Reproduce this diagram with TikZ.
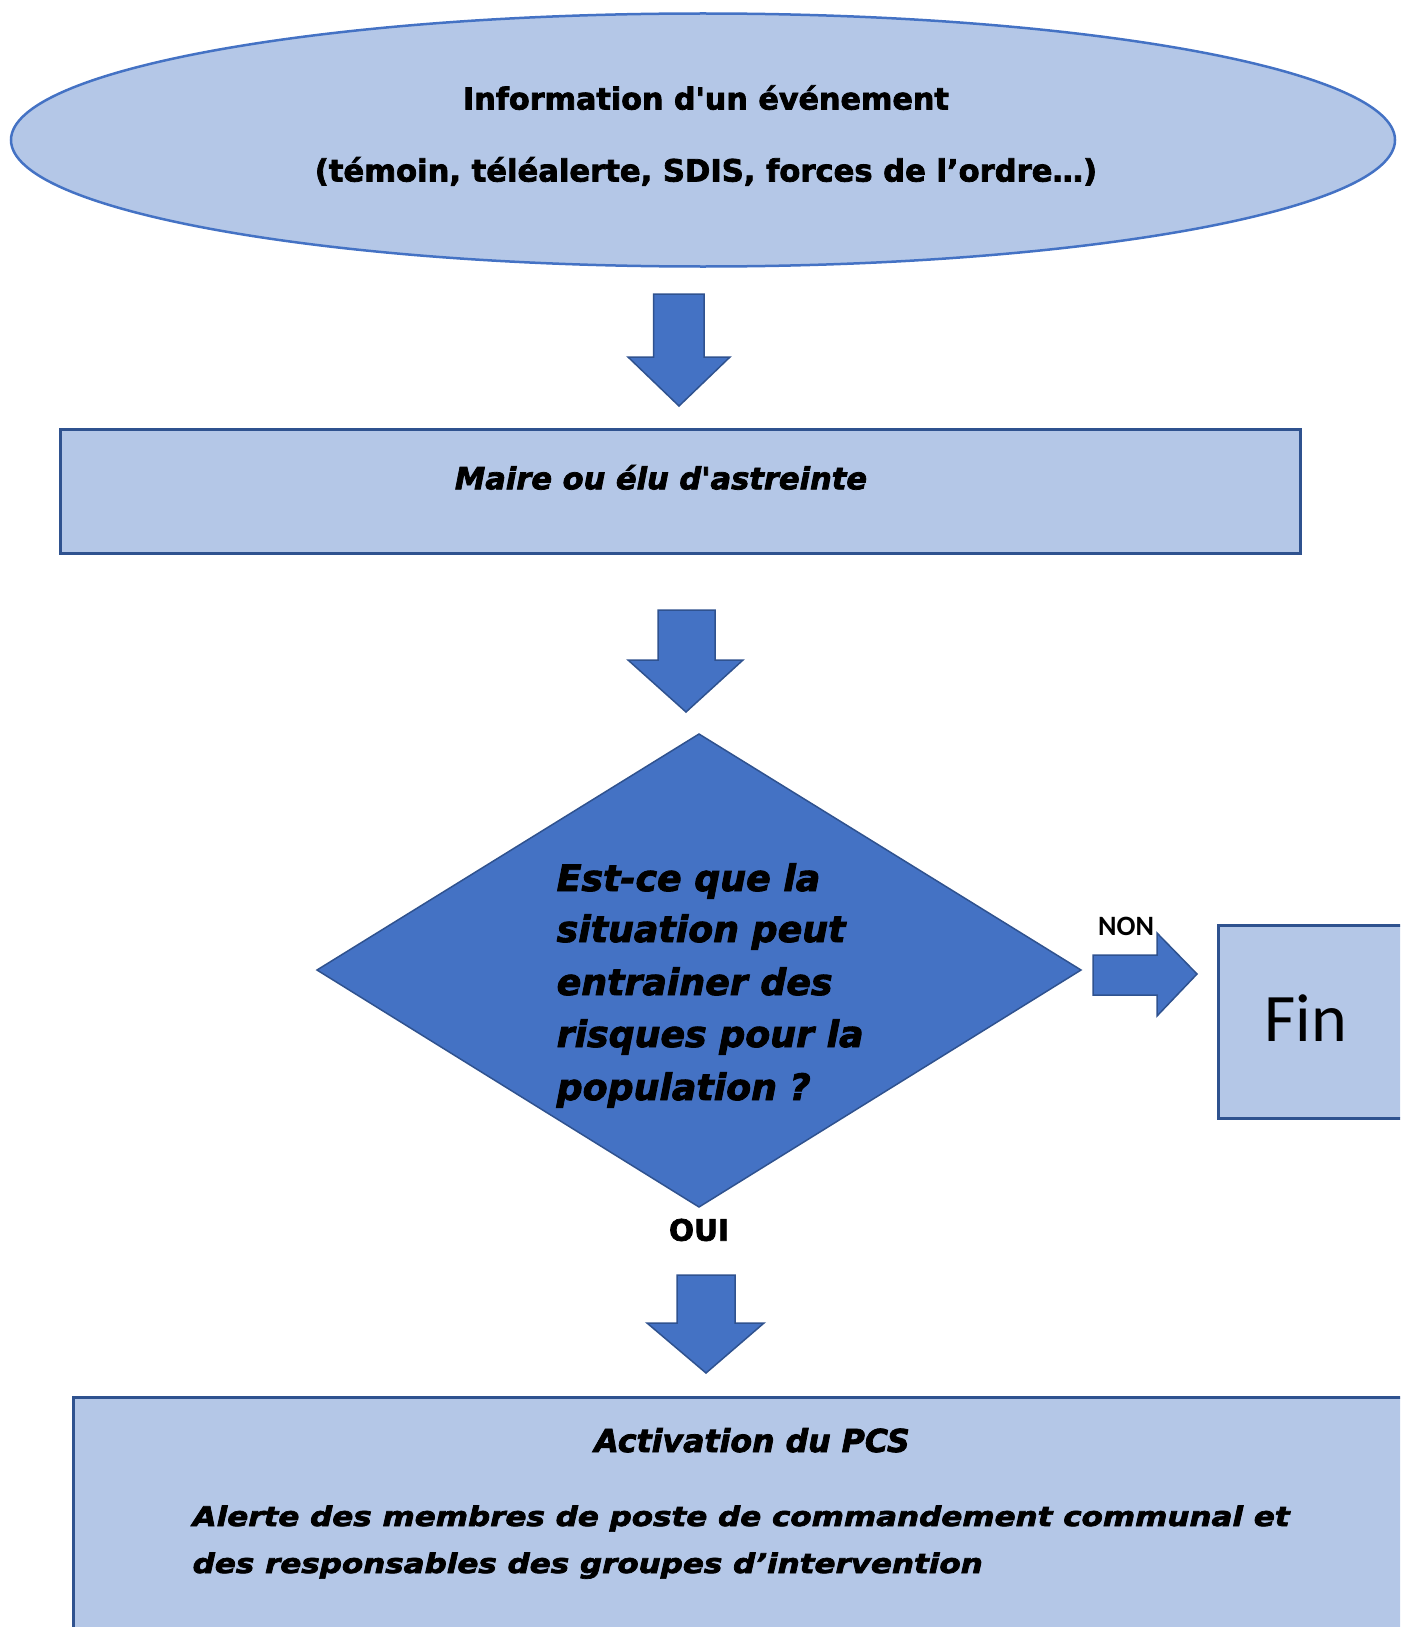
\documentclass[tikz,border=0pt]{standalone}
\usepackage{fontspec}
\setmainfont{DejaVu Sans}[Ligatures=TeXOff, BoldFeatures={FakeBold=2.5}, BoldItalicFeatures={FakeBold=2.5}]
\newfontfamily\calfont{Carlito}
\definecolor{lightblue}{HTML}{B4C7E7}
\definecolor{midblue}{HTML}{4472C4}
\definecolor{darkblue}{HTML}{2F528F}
\tikzset{
  boxstyle/.style={fill=lightblue, draw=darkblue, line width=3pt},
  blockarrow/.style={fill=midblue, draw=darkblue, line width=1.5pt, line join=miter},
  txt/.style={inner sep=0pt, text=black},
}
\begin{document}
\begin{tikzpicture}[x=1pt,y=-1pt]
\useasboundingbox (0,0) rectangle (1400,1627);
\begin{scope}
\clip (0,0) rectangle (1400,1627);
% ellipse
\draw[fill=lightblue, draw=midblue, line width=2.5pt] (703,140) ellipse [x radius=692, y radius=126.5];
\node[txt, font=\bfseries\fontsize{30.2}{34}\selectfont, anchor=base] (t1) at (706,109.5) {Information d'un événement};
\node[txt, font=\bfseries\fontsize{30.6}{34}\selectfont, anchor=base] (t2) at (706,181.5) {(témoin, téléalerte, SDIS, forces de l’ordre…)};
% arrow 1
\draw[blockarrow] (653.5,294) -- (704,294) -- (704,357) -- (730,357) -- (679,406) -- (628,357) -- (653.5,357) -- cycle;
% rect 1
\node[boxstyle, minimum width=1240pt, minimum height=124pt, anchor=north west, inner sep=0pt] (maire) at (58.5,427.5) {};
\node[txt, font=\bfseries\itshape\fontsize{30.5}{34}\selectfont, anchor=base] (mairet) at (661,489.3) {Maire ou élu d'astreinte};
% arrow 2
\draw[blockarrow] (658,610) -- (715,610) -- (715,660) -- (743,660) -- (686,712) -- (628,660) -- (658,660) -- cycle;
% diamond
\draw[fill=midblue, draw=darkblue, line width=1.5pt] (699,734) -- (1081,970) -- (699,1207) -- (317,970) -- cycle;
\begin{scope}[every node/.style={txt, font=\bfseries\itshape\fontsize{36.3}{40}\selectfont, anchor=base west}]
\node (q1) at (556.5,891) {Est-ce que la};
\node (q2) at (556.5,942) {situation peut};
\node (q3) at (556.5,995) {entrainer des};
\node (q4) at (556.5,1047) {risques pour la};
\node (q5) at (556.5,1100) {population ?};
\end{scope}
% right arrow
\draw[blockarrow] (1093,955) -- (1157,955) -- (1157,933) -- (1197,974) -- (1157,1016) -- (1157,995) -- (1093,995) -- cycle;
\node[txt, font=\calfont\bfseries\fontsize{28}{32}\selectfont, anchor=base west] (non) at (1098,935) {NON};
% Fin box
\draw[boxstyle] (1218,925) rectangle (1420,1118);
\node[txt, font=\calfont\fontsize{68}{76}\selectfont, anchor=base west] (fin) at (1264,1041.7) {Fin};
% OUI
\node[txt, font=\bfseries\fontsize{29.5}{32}\selectfont, anchor=base] (oui) at (699,1240.7) {OUI};
% arrow 3
\draw[blockarrow] (677,1275) -- (735,1275) -- (735,1323) -- (764,1323) -- (706,1373) -- (647,1323) -- (677,1323) -- cycle;
% bottom rect
\draw[boxstyle] (73,1397) rectangle (1420,1650);
\node[txt, font=\bfseries\itshape\fontsize{31.6}{34}\selectfont, anchor=base] (act) at (752,1452) {Activation du PCS};
\node[txt, font=\bfseries\itshape\fontsize{27}{30}\selectfont, anchor=base west] (al1) at (192.5,1526) {\scalebox{1.147}[1]{Alerte des membres de poste de commandement communal et}};
\node[txt, font=\bfseries\itshape\fontsize{27}{30}\selectfont, anchor=base west] (al2) at (192.5,1573) {\scalebox{1.147}[1]{des responsables des groupes d’intervention}};
\end{scope}
\end{tikzpicture}
\end{document}
